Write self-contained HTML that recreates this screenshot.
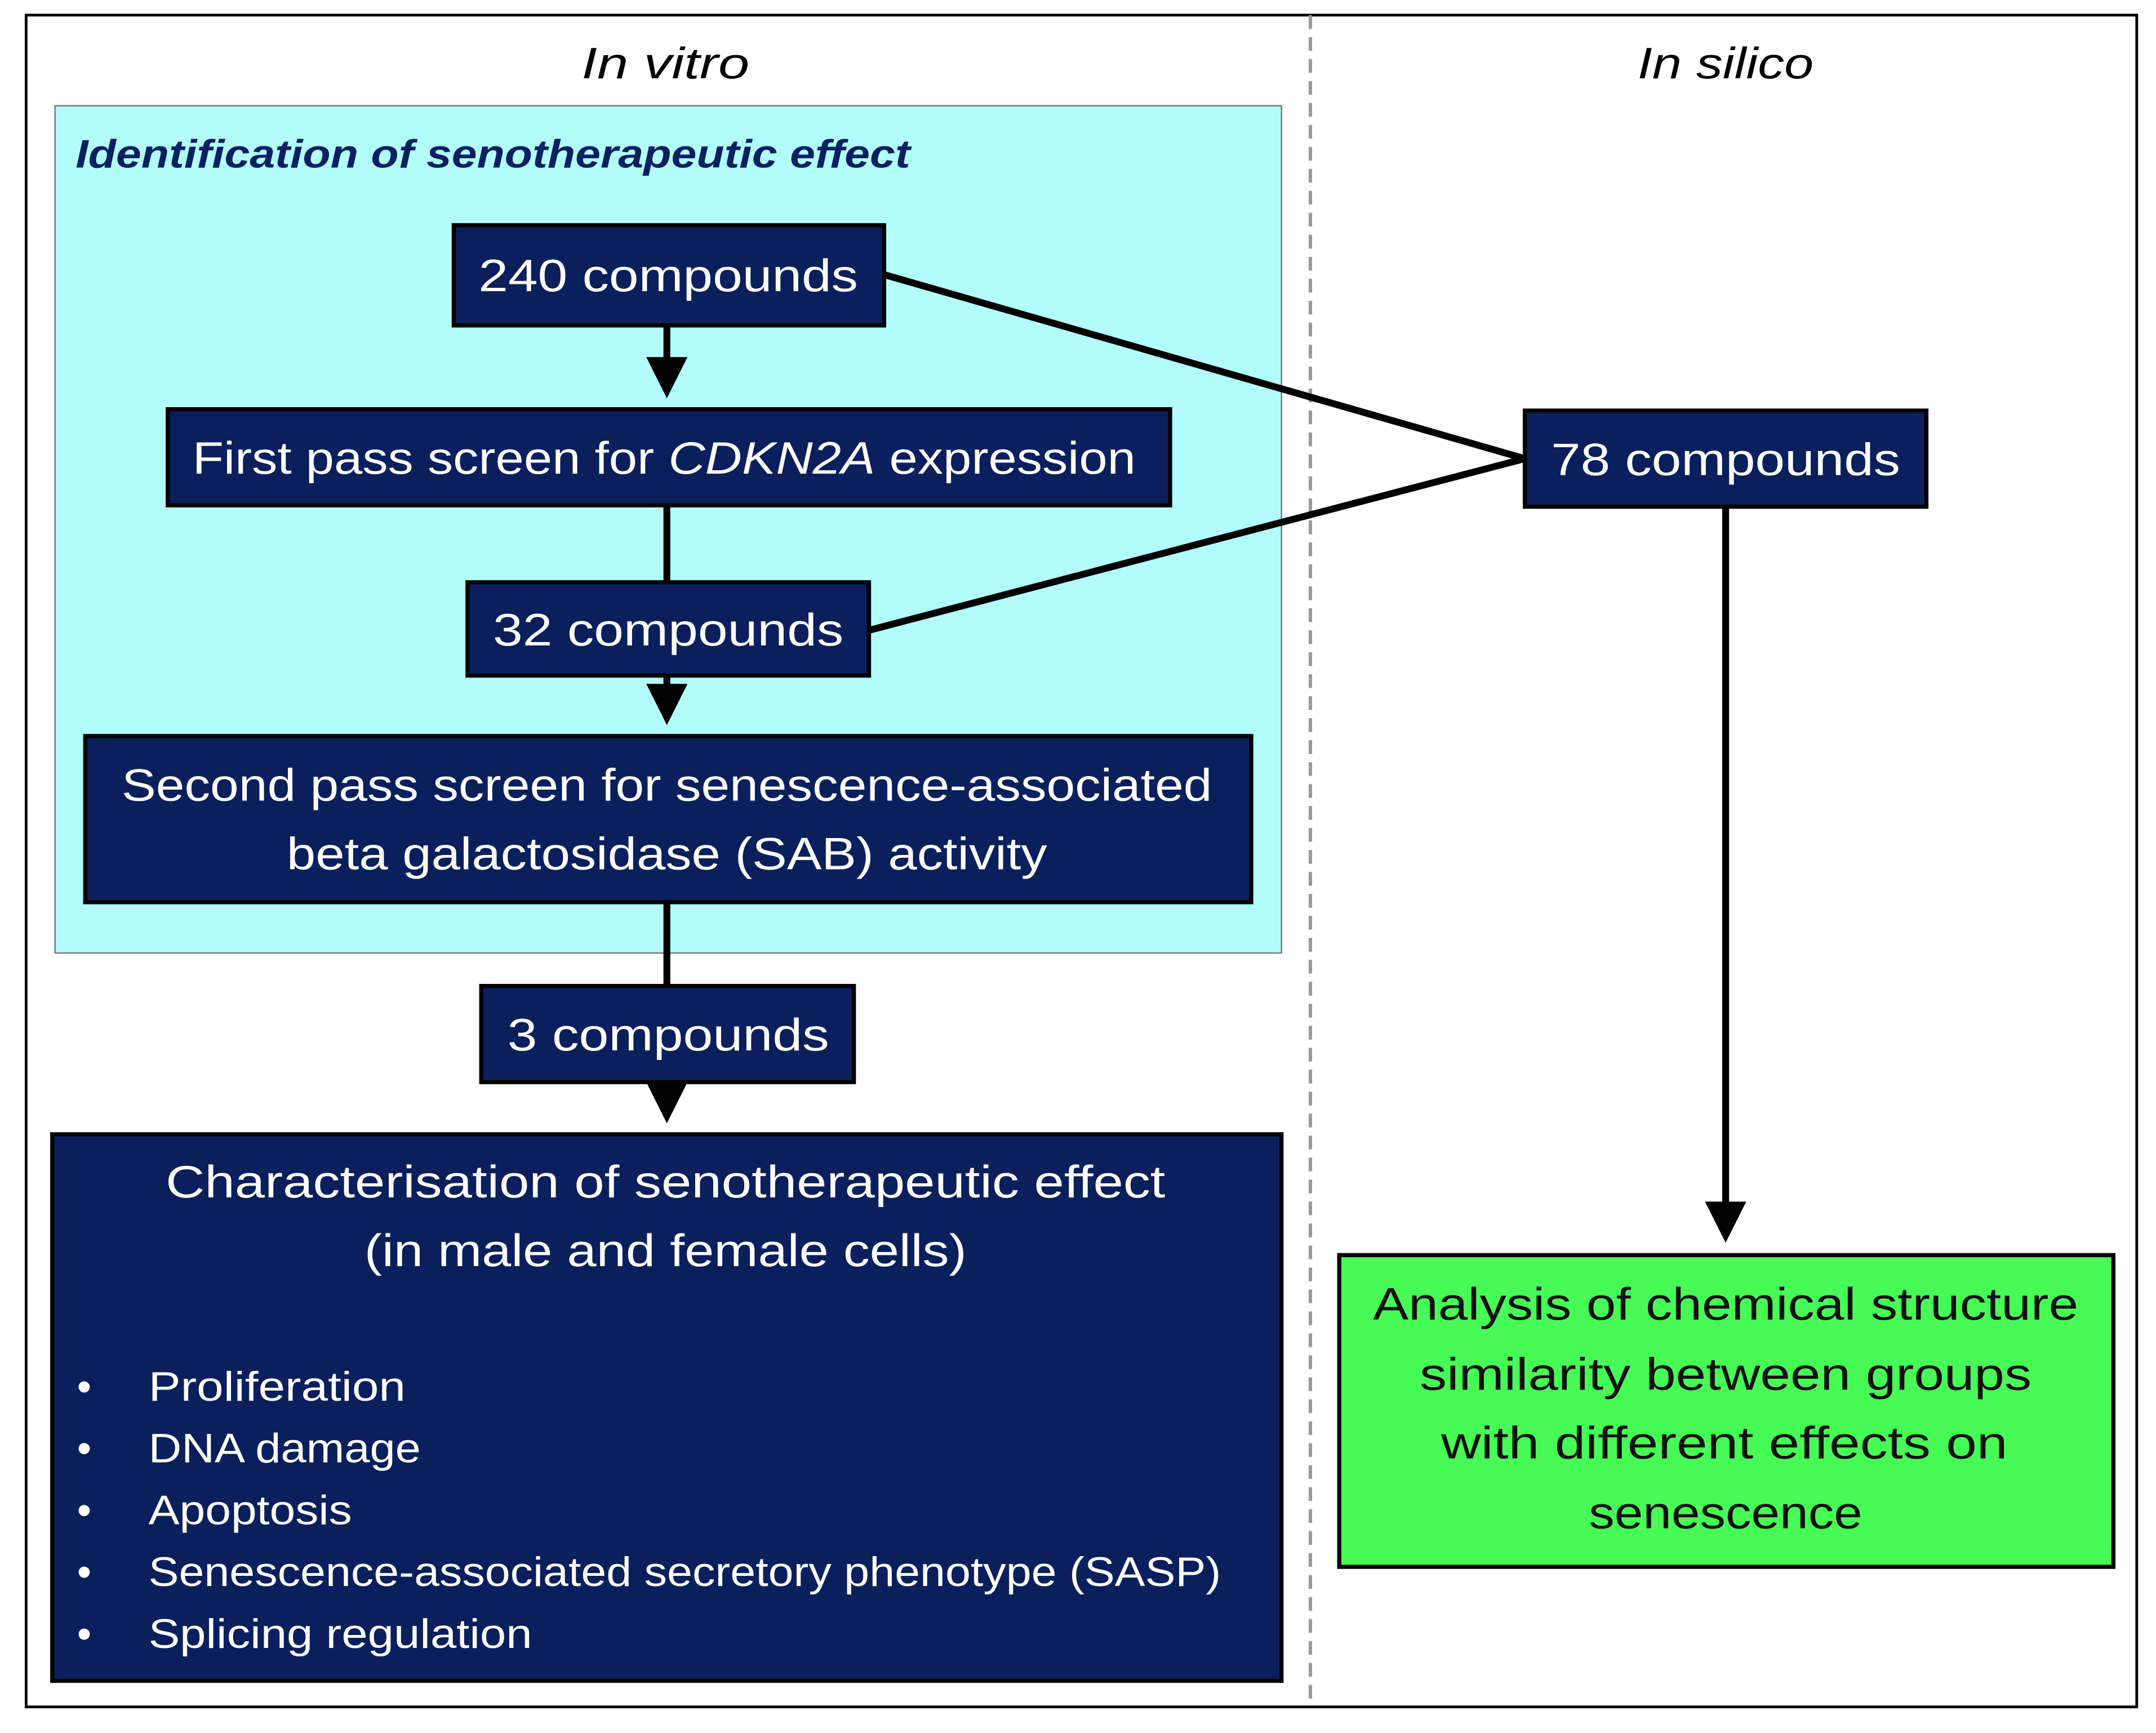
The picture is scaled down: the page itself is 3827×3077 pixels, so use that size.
<!DOCTYPE html>
<html><head><meta charset="utf-8"><style>
html,body{margin:0;padding:0;background:#fff}
svg{display:block}
text{font-family:"Liberation Sans",sans-serif}
</style></head><body>
<svg width="3827" height="3077" viewBox="0 0 1568 1262" preserveAspectRatio="none" xmlns="http://www.w3.org/2000/svg">
<defs><marker id="a" markerWidth="6" markerHeight="6" refX="5" refY="3" orient="auto" markerUnits="strokeWidth"><path d="M0,0 L6,3 L0,6 z" fill="#000"/></marker></defs>
<rect x="0" y="0" width="1568" height="1262" fill="#fff"/>
<rect x="19" y="11" width="1535" height="1232" fill="none" stroke="#000" stroke-width="2"/>
<line x1="953" y1="11" x2="953" y2="1243" stroke="#999" stroke-width="2.5" stroke-dasharray="10,6"/>
<text x="484" y="57" font-size="32" font-style="italic" text-anchor="middle" textLength="122" lengthAdjust="spacingAndGlyphs">In vitro</text>
<text x="1255" y="57" font-size="32" font-style="italic" text-anchor="middle" textLength="128" lengthAdjust="spacingAndGlyphs">In silico</text>
<rect x="40" y="77" width="892" height="617" fill="#b3fcfc" stroke="#777" stroke-width="1"/>
<text x="55" y="122" font-size="29" font-weight="bold" font-style="italic" fill="#0a2060" textLength="607" lengthAdjust="spacingAndGlyphs">Identification of senotherapeutic effect</text>
<g stroke="#000" stroke-width="5" fill="none">
<line x1="643" y1="200" x2="1109" y2="334"/>
<line x1="632" y1="459" x2="1109" y2="334"/>
<line x1="485" y1="237" x2="485" y2="285" marker-end="url(#a)"/>
<line x1="485" y1="368" x2="485" y2="424"/>
<line x1="485" y1="492" x2="485" y2="523" marker-end="url(#a)"/>
<line x1="485" y1="657" x2="485" y2="718"/>
<line x1="485" y1="788" x2="485" y2="813" marker-end="url(#a)"/>
<line x1="1255" y1="369" x2="1255" y2="900" marker-end="url(#a)"/>
</g>
<g fill="#0a1f5c" stroke="#000" stroke-width="3">
<rect x="330" y="164" width="313" height="73"/>
<rect x="122" y="298" width="729" height="70"/>
<rect x="340" y="424" width="292" height="68"/>
<rect x="62" y="536" width="848" height="121"/>
<rect x="350" y="718" width="271" height="70"/>
<rect x="38" y="826" width="894" height="398"/>
<rect x="1109" y="299" width="292" height="70"/>
</g>
<rect x="974" y="914" width="563" height="227" fill="#46fb55" stroke="#000" stroke-width="3"/>
<g fill="#fff" font-size="33" text-anchor="middle">
<text x="486" y="212" textLength="276" lengthAdjust="spacingAndGlyphs">240 compounds</text>
<text x="483" y="345" textLength="686" lengthAdjust="spacingAndGlyphs">First pass screen for <tspan font-style="italic">CDKN2A</tspan> expression</text>
<text x="486" y="470" textLength="255" lengthAdjust="spacingAndGlyphs">32 compounds</text>
<text x="485" y="583" textLength="793" lengthAdjust="spacingAndGlyphs">Second pass screen for senescence-associated</text>
<text x="485" y="633" textLength="553" lengthAdjust="spacingAndGlyphs">beta galactosidase (SAB) activity</text>
<text x="486" y="765" textLength="234" lengthAdjust="spacingAndGlyphs">3 compounds</text>
<text x="484" y="872" textLength="727" lengthAdjust="spacingAndGlyphs">Characterisation of senotherapeutic effect</text>
<text x="484" y="922" textLength="438" lengthAdjust="spacingAndGlyphs">(in male and female cells)</text>
<text x="1255" y="346" textLength="254" lengthAdjust="spacingAndGlyphs">78 compounds</text>
</g>
<g fill="#fff" font-size="30">
<text x="56" y="1020">•</text><text x="108" y="1020" textLength="187" lengthAdjust="spacingAndGlyphs">Proliferation</text>
<text x="56" y="1065">•</text><text x="108" y="1065" textLength="198" lengthAdjust="spacingAndGlyphs">DNA damage</text>
<text x="56" y="1110">•</text><text x="108" y="1110" textLength="148" lengthAdjust="spacingAndGlyphs">Apoptosis</text>
<text x="56" y="1155">•</text><text x="108" y="1155" textLength="780" lengthAdjust="spacingAndGlyphs">Senescence-associated secretory phenotype (SASP)</text>
<text x="56" y="1200">•</text><text x="108" y="1200" textLength="279" lengthAdjust="spacingAndGlyphs">Splicing regulation</text>
</g>
<g fill="#111" font-size="33" text-anchor="middle">
<text x="1255" y="961" textLength="513" lengthAdjust="spacingAndGlyphs">Analysis of chemical structure</text>
<text x="1255" y="1012" textLength="445" lengthAdjust="spacingAndGlyphs">similarity between groups</text>
<text x="1254" y="1062" textLength="412" lengthAdjust="spacingAndGlyphs">with different effects on</text>
<text x="1255" y="1113" textLength="199" lengthAdjust="spacingAndGlyphs">senescence</text>
</g>
</svg>
</body></html>
